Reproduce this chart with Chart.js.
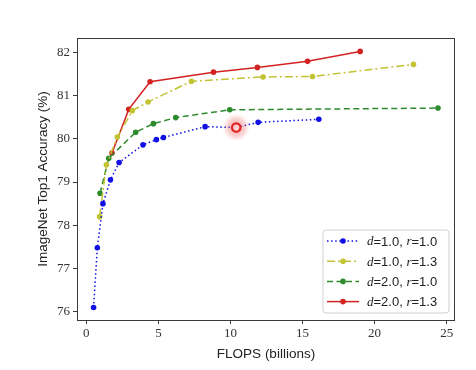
<!DOCTYPE html>
<html>
<head>
<meta charset="utf-8">
<script src="https://cdn.jsdelivr.net/npm/chart.js@4.4.1/dist/chart.umd.min.js"></script>
<style>
  html, body { margin: 0; padding: 0; background: #fff; }
  #wrap { width: 476px; height: 370px; }
</style>
</head>
<body>
<div id="wrap"><canvas id="myChart" width="476" height="370"></canvas></div>
<script>
// values (FLOPS in billions, top1 accuracy in %)
const blueX   = [0.5, 0.76, 1.15, 1.67, 2.27, 3.93, 4.86, 5.35, 8.24, 10.4, 11.92, 16.13];
const blueY   = [76.1, 77.48, 78.5, 79.05, 79.45, 79.86, 79.98, 80.03, 80.28, 80.26, 80.38, 80.45];
const yellowX = [0.92, 1.39, 2.15, 3.19, 4.28, 7.29, 12.26, 15.69, 22.7];
const yellowY = [78.2, 79.4, 80.04, 80.65, 80.85, 81.33, 81.43, 81.44, 81.72];
const greenX  = [0.95, 1.55, 3.42, 4.65, 6.2, 9.95, 24.4];
const greenY  = [78.74, 79.55, 80.15, 80.35, 80.49, 80.67, 80.71];
const redX    = [1.78, 2.94, 4.42, 8.82, 11.87, 15.35, 19.0];
const redY    = [79.67, 80.68, 81.32, 81.54, 81.65, 81.79, 82.02];
const highlightX = [10.4];
const highlightY = [80.26];

const seriesNames = [["1.0", "1.0"], ["1.0", "1.3"], ["2.0", "1.0"], ["2.0", "1.3"]];
const xTicks = [0, 5, 10, 15, 20, 25];
const yTicks = [76, 77, 78, 79, 80, 81, 82];

function pts(xs, ys) { return xs.map((x, i) => ({ x: x, y: ys[i] })); }

const styles = [
  { color: "#1010e6", dash: [1.5, 2.6] },
  { color: "#c2c232", dash: [8, 3, 2, 3] },
  { color: "#2d8a2d", dash: [6, 3.5] },
  { color: "#d42222", dash: [] }
];
const allX = [blueX, yellowX, greenX, redX];
const allY = [blueY, yellowY, greenY, redY];

const datasets = allX.map((xs, i) => ({
  label: "d=" + seriesNames[i][0] + ", r=" + seriesNames[i][1],
  data: pts(xs, allY[i]),
  borderColor: styles[i].color,
  backgroundColor: styles[i].color,
  borderDash: styles[i].dash,
  borderWidth: 1.5,
  pointRadius: 2.8,
  pointBorderWidth: 0,
  showLine: true,
  tension: 0
}));

// the red marked point with its soft glow
const highlight = {
  id: "highlight",
  afterDatasetsDraw(chart) {
    const ctx = chart.ctx;
    highlightX.forEach((v, i) => {
      const px = chart.scales.x.getPixelForValue(v);
      const py = chart.scales.y.getPixelForValue(highlightY[i]);
      ctx.save();
      const g = ctx.createRadialGradient(px, py, 2, px, py, 14);
      g.addColorStop(0, "rgba(235,90,90,0.55)");
      g.addColorStop(0.6, "rgba(240,120,120,0.3)");
      g.addColorStop(1, "rgba(255,160,160,0)");
      ctx.fillStyle = g;
      ctx.beginPath(); ctx.arc(px, py, 14, 0, Math.PI * 2); ctx.fill();
      ctx.beginPath(); ctx.arc(px, py, 4.2, 0, Math.PI * 2);
      ctx.fillStyle = "#ffd0d0"; ctx.fill();
      ctx.lineWidth = 2.2; ctx.strokeStyle = "#dd2222"; ctx.stroke();
      ctx.restore();
    });
  }
};

// frame around the plot + matplotlib style legend
const frameAndLegend = {
  id: "frameAndLegend",
  afterDraw(chart) {
    const ctx = chart.ctx, a = chart.chartArea;
    ctx.save();
    ctx.strokeStyle = "#3a3a3a";
    ctx.lineWidth = 1;
    ctx.strokeRect(a.left + 0.5, a.top + 0.5, a.right - a.left - 1, a.bottom - a.top);

    const bx = a.right - 132, by = a.bottom - 90, bw = 126, bh = 83;
    ctx.fillStyle = "rgba(255,255,255,0.9)";
    ctx.strokeStyle = "#d0d0d0";
    ctx.beginPath();
    ctx.roundRect(bx, by, bw, bh, 3);
    ctx.fill(); ctx.stroke();

    datasets.forEach((ds, i) => {
      const y = by + 11 + i * 20.2;
      ctx.strokeStyle = ds.borderColor;
      ctx.lineWidth = 1.5;
      ctx.setLineDash(ds.borderDash);
      ctx.beginPath(); ctx.moveTo(bx + 4, y); ctx.lineTo(bx + 36, y); ctx.stroke();
      ctx.setLineDash([]);
      ctx.fillStyle = ds.borderColor;
      ctx.beginPath(); ctx.arc(bx + 20, y, 2.8, 0, Math.PI * 2); ctx.fill();

      let tx = bx + 44;
      const parts = [
        ["italic 13px 'Liberation Serif'", "d"],
        ["13px 'Liberation Sans'", "=" + seriesNames[i][0] + ", "],
        ["italic 13px 'Liberation Serif'", "r"],
        ["13px 'Liberation Sans'", "=" + seriesNames[i][1]]
      ];
      ctx.fillStyle = "#222";
      ctx.textBaseline = "middle";
      parts.forEach(p => {
        ctx.font = p[0];
        ctx.fillText(p[1], tx, y + 1);
        tx += ctx.measureText(p[1]).width;
      });
    });
    ctx.restore();
  }
};

new Chart(document.getElementById("myChart").getContext("2d"), {
  type: "scatter",
  data: { datasets: datasets },
  options: {
    responsive: false,
    animation: false,
    layout: { padding: { left: 30, right: 21, top: 38, bottom: 8 } },
    plugins: { legend: { display: false }, tooltip: { enabled: false } },
    scales: {
      x: {
        min: -0.65, max: 25.58,
        afterBuildTicks: s => { s.ticks = xTicks.map(v => ({ value: v })); },
        afterFit: s => { s.height = 42; },
        grid: { drawOnChartArea: false, drawTicks: true, tickLength: 4, color: "#3a3a3a" },
        border: { display: false },
        ticks: { color: "#333", font: { family: "'Liberation Serif'", size: 13 }, padding: 2, maxRotation: 0 },
        title: { display: true, text: "FLOPS (billions)", color: "#222",
                 font: { family: "'Liberation Sans'", size: 13.5 }, padding: { top: 2, bottom: 0 } }
      },
      y: {
        min: 75.81, max: 82.33,
        afterBuildTicks: s => { s.ticks = yTicks.map(v => ({ value: v })); },
        afterFit: s => { s.width = 47; },
        grid: { drawOnChartArea: false, drawTicks: true, tickLength: 4, color: "#3a3a3a" },
        border: { display: false },
        ticks: { color: "#333", font: { family: "'Liberation Serif'", size: 13 }, padding: 3 },
        title: { display: true, text: "ImageNet Top1 Accuracy (%)", color: "#222",
                 font: { family: "'Liberation Sans'", size: 13.5 }, padding: { top: 5, bottom: 0 } }
      }
    }
  },
  plugins: [highlight, frameAndLegend]
});
</script>
</body>
</html>
